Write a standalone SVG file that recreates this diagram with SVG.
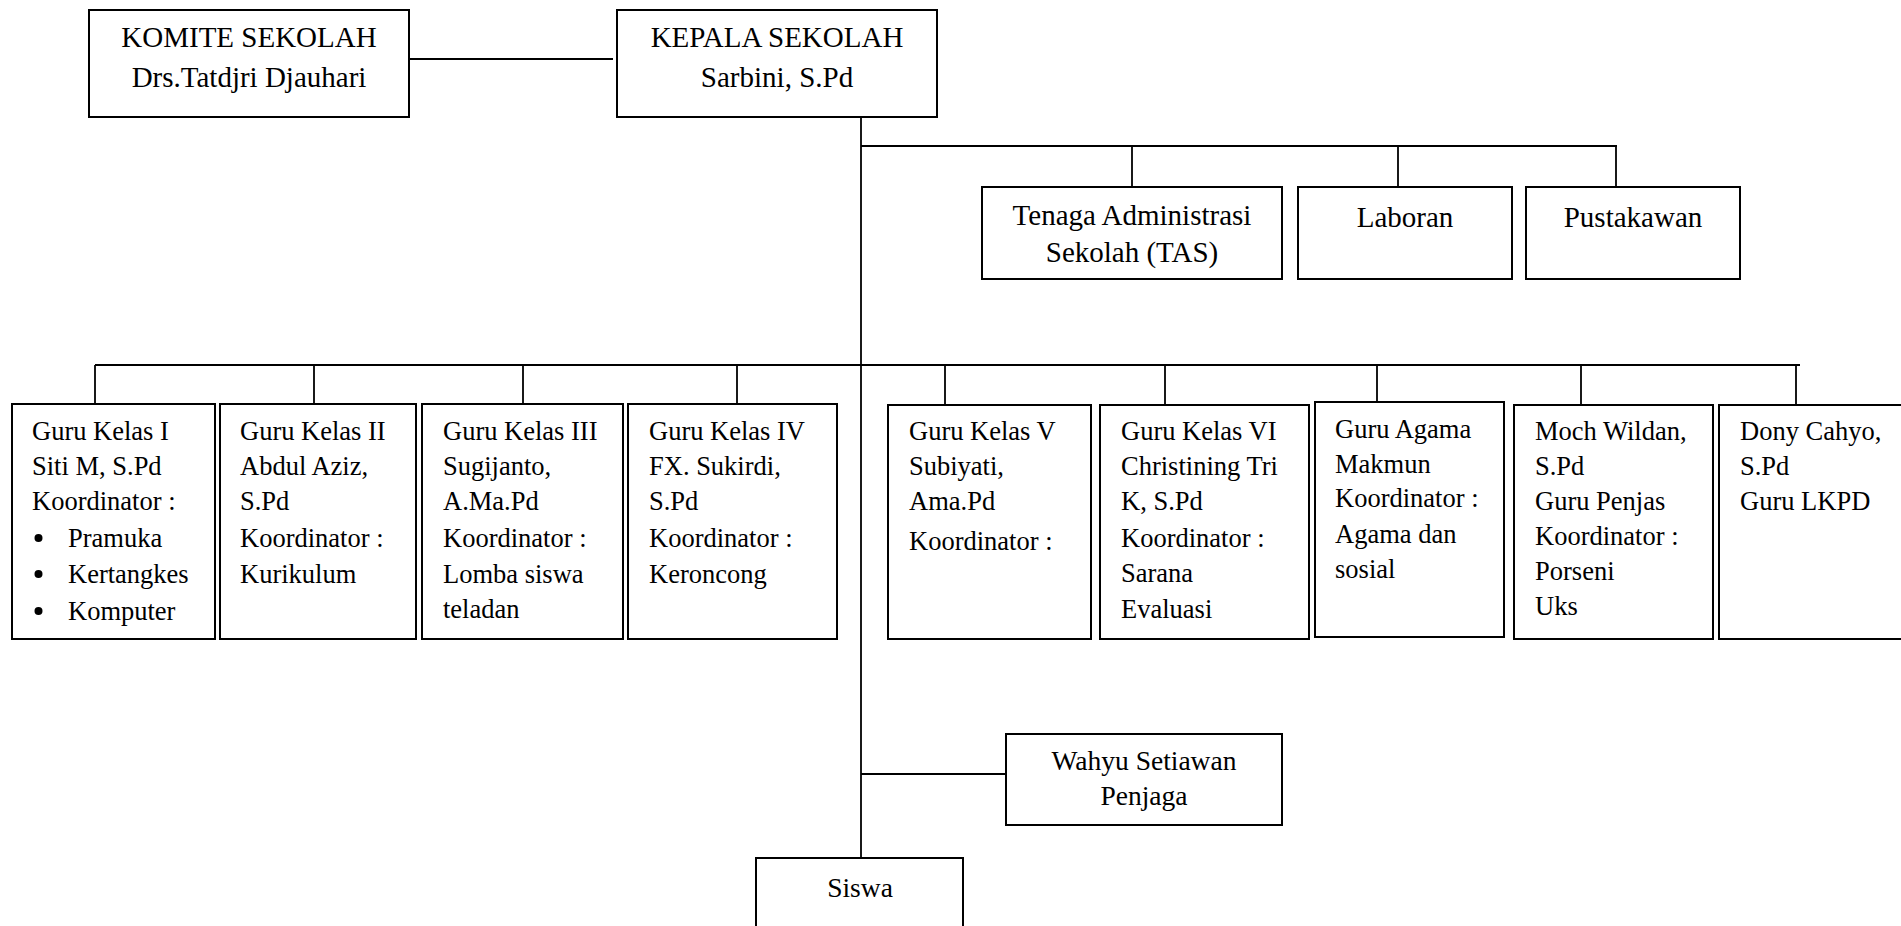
<svg xmlns="http://www.w3.org/2000/svg" width="1901" height="926" viewBox="0 0 1901 926">
<style>
rect.b{fill:#fff;stroke:#000;stroke-width:2}
.c line{stroke:#000;stroke-width:1.8}
text{font-family:"Liberation Serif","Times New Roman",serif;fill:#000}
.h{font-size:29px;text-anchor:middle}
.g{font-size:26.5px}
.m{font-size:27.5px;text-anchor:middle}
</style>
<rect width="1901" height="926" fill="#fff"/>
<g class="c" id="connectors">
<line x1="409" y1="59" x2="613" y2="59"/>
<line x1="861" y1="117" x2="861" y2="858"/>
<line x1="861" y1="146" x2="1617" y2="146"/>
<line x1="1132" y1="146" x2="1132" y2="187"/>
<line x1="1398" y1="146" x2="1398" y2="187"/>
<line x1="1616" y1="146" x2="1616" y2="187"/>
<line x1="95" y1="365" x2="1800" y2="365"/>
<line x1="95" y1="365" x2="95" y2="404"/>
<line x1="314" y1="365" x2="314" y2="404"/>
<line x1="523" y1="365" x2="523" y2="404"/>
<line x1="737" y1="365" x2="737" y2="404"/>
<line x1="945" y1="365" x2="945" y2="405"/>
<line x1="1165" y1="365" x2="1165" y2="405"/>
<line x1="1377" y1="365" x2="1377" y2="402"/>
<line x1="1581" y1="365" x2="1581" y2="405"/>
<line x1="1796" y1="365" x2="1796" y2="405"/>
<line x1="861" y1="774" x2="1006" y2="774"/>
</g>
<g id="komite">
<rect class="b" x="89" y="10" width="320" height="107"/>
<text class="h" x="249" y="47">KOMITE SEKOLAH</text>
<text class="h" x="249" y="87">Drs.Tatdjri Djauhari</text>
</g>
<g id="kepala">
<rect class="b" x="617" y="10" width="320" height="107"/>
<text class="h" x="777" y="47">KEPALA SEKOLAH</text>
<text class="h" x="777" y="87">Sarbini, S.Pd</text>
</g>
<g id="tas">
<rect class="b" x="982" y="187" width="300" height="92"/>
<text class="h" x="1132" y="225">Tenaga Administrasi</text>
<text class="h" x="1132" y="262">Sekolah (TAS)</text>
</g>
<g id="laboran">
<rect class="b" x="1298" y="187" width="214" height="92"/>
<text class="h" x="1405" y="227">Laboran</text>
</g>
<g id="pustakawan">
<rect class="b" x="1526" y="187" width="214" height="92"/>
<text class="h" x="1633" y="227">Pustakawan</text>
</g>
<g id="guru1">
<rect class="b" x="12" y="404" width="203" height="235"/>
<text class="g" x="32" y="440">Guru Kelas I</text>
<text class="g" x="32" y="475">Siti M, S.Pd</text>
<text class="g" x="32" y="510">Koordinator :</text>
<circle cx="38.5" cy="538" r="4"/>
<text class="g" x="68" y="547">Pramuka</text>
<circle cx="38.5" cy="574" r="4"/>
<text class="g" x="68" y="583">Kertangkes</text>
<circle cx="38.5" cy="611" r="4"/>
<text class="g" x="68" y="620">Komputer</text>
</g>
<g id="guru2">
<rect class="b" x="220" y="404" width="196" height="235"/>
<text class="g" x="240" y="440">Guru Kelas II</text>
<text class="g" x="240" y="475">Abdul Aziz,</text>
<text class="g" x="240" y="510">S.Pd</text>
<text class="g" x="240" y="547">Koordinator :</text>
<text class="g" x="240" y="583">Kurikulum</text>
</g>
<g id="guru3">
<rect class="b" x="422" y="404" width="201" height="235"/>
<text class="g" x="443" y="440">Guru Kelas III</text>
<text class="g" x="443" y="475">Sugijanto,</text>
<text class="g" x="443" y="510">A.Ma.Pd</text>
<text class="g" x="443" y="547">Koordinator :</text>
<text class="g" x="443" y="583">Lomba siswa</text>
<text class="g" x="443" y="618">teladan</text>
</g>
<g id="guru4">
<rect class="b" x="628" y="404" width="209" height="235"/>
<text class="g" x="649" y="440">Guru Kelas IV</text>
<text class="g" x="649" y="475">FX. Sukirdi,</text>
<text class="g" x="649" y="510">S.Pd</text>
<text class="g" x="649" y="547">Koordinator :</text>
<text class="g" x="649" y="583">Keroncong</text>
</g>
<g id="guru5">
<rect class="b" x="888" y="405" width="203" height="234"/>
<text class="g" x="909" y="440">Guru Kelas V</text>
<text class="g" x="909" y="475">Subiyati,</text>
<text class="g" x="909" y="510">Ama.Pd</text>
<text class="g" x="909" y="550">Koordinator :</text>
</g>
<g id="guru6">
<rect class="b" x="1100" y="405" width="209" height="234"/>
<text class="g" x="1121" y="440">Guru Kelas VI</text>
<text class="g" x="1121" y="475">Christining Tri</text>
<text class="g" x="1121" y="510">K, S.Pd</text>
<text class="g" x="1121" y="547">Koordinator :</text>
<text class="g" x="1121" y="582">Sarana</text>
<text class="g" x="1121" y="618">Evaluasi</text>
</g>
<g id="guru7">
<rect class="b" x="1315" y="402" width="189" height="235"/>
<text class="g" x="1335" y="438">Guru Agama</text>
<text class="g" x="1335" y="473">Makmun</text>
<text class="g" x="1335" y="507">Koordinator :</text>
<text class="g" x="1335" y="543">Agama dan</text>
<text class="g" x="1335" y="578">sosial</text>
</g>
<g id="guru8">
<rect class="b" x="1514" y="405" width="199" height="234"/>
<text class="g" x="1535" y="440">Moch Wildan,</text>
<text class="g" x="1535" y="475">S.Pd</text>
<text class="g" x="1535" y="510">Guru Penjas</text>
<text class="g" x="1535" y="545">Koordinator :</text>
<text class="g" x="1535" y="580">Porseni</text>
<text class="g" x="1535" y="615">Uks</text>
</g>
<g id="guru9">
<rect class="b" x="1719" y="405" width="200" height="234"/>
<text class="g" x="1740" y="440">Dony Cahyo,</text>
<text class="g" x="1740" y="475">S.Pd</text>
<text class="g" x="1740" y="510">Guru LKPD</text>
</g>
<g id="penjaga">
<rect class="b" x="1006" y="734" width="276" height="91"/>
<text class="m" x="1144" y="770">Wahyu Setiawan</text>
<text class="m" x="1144" y="805">Penjaga</text>
</g>
<g id="siswa">
<rect class="b" x="756" y="858" width="207" height="90"/>
<text class="m" x="860" y="897">Siswa</text>
</g>
</svg>
